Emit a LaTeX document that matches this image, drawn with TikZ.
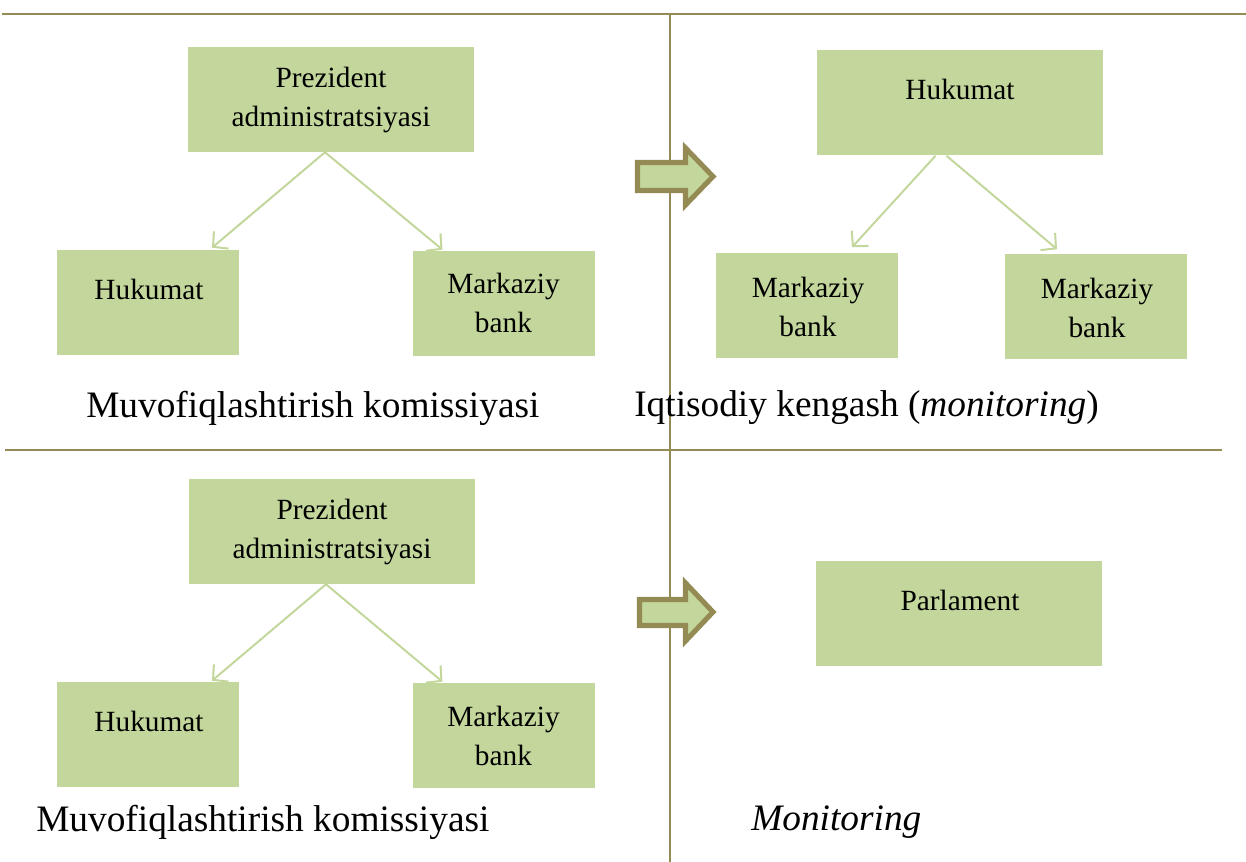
\documentclass[tikz,border=0pt]{standalone}
\usepackage{fontspec}
\setmainfont{Liberation Serif}
\usetikzlibrary{arrows.meta,calc}
\definecolor{boxgreen}{HTML}{C3D69B}
\definecolor{olive}{HTML}{948A54}
\begin{document}
\begin{tikzpicture}[x=0.75pt,y=-0.75pt,
  widebox/.style={fill=boxgreen,draw=none,inner sep=0pt,minimum width=214.5pt,minimum height=78.75pt},
  smallbox/.style={fill=boxgreen,draw=none,inner sep=0pt,minimum width=136.5pt,minimum height=78.75pt},
  boxtext/.style={inner sep=0pt,align=center,font=\fontsize{22pt}{29.25pt}\selectfont},
  caption/.style={inner sep=0pt,anchor=west,font=\fontsize{28pt}{34pt}\selectfont},
  link/.style={draw=boxgreen,line width=1.5pt,-{Straight Barb[length=8pt,width=17pt,line width=1.5pt]}},
  rule/.style={draw=olive,line width=1.6pt},
  bigarrow/.style={fill=boxgreen,draw=olive,line width=3.8pt,line join=miter}]
\useasboundingbox (0,0) rectangle (1246,862);

% quadrant rules
\draw[rule] (2,14) -- (1246,14);
\draw[rule] (5,450) -- (1222,450);
\draw[rule] (670,14) -- (670,862);

% top left: coordination commission
\node[widebox]  (pa1) at (331,99.5) {};
\node[smallbox] (hk1) at (148,302.5) {};
\node[smallbox] (mb1) at (503.5,303.5) {};
\node[boxtext] (pa1t) at (331,100) {Prezident\\administratsiyasi};
\node[boxtext] (hk1t) at (149,289) {Hukumat};
\node[boxtext] (mb1t) at (503.5,303) {Markaziy\\bank};
\draw[link] ($(pa1.south)+(-6,0)$) -- ($(hk1.north)+(64,-2)$);
\draw[link] ($(pa1.south)+(-6,0)$) -- ($(mb1.north)+(-61,-1)$);
\node[caption] (cap1) at (86,408) {Muvofiqlashtirish komissiyasi};

% top right: economic council
\node[widebox]  (hk2) at (959.5,103) {};
\node[smallbox] (mb2) at (807,306) {};
\node[smallbox] (mb3) at (1096,307) {};
\node[boxtext] (hk2t) at (960,89) {Hukumat};
\node[boxtext] (mb2t) at (808,306.5) {Markaziy\\bank};
\node[boxtext] (mb3t) at (1097,307.5) {Markaziy\\bank};
\draw[link] ($(hk2.south)+(-24,0)$) -- ($(mb2.north)+(45,-6)$);
\draw[link] ($(hk2.south)+(-13,0)$) -- ($(mb3.north)+(-39,-5)$);
\node[caption] (cap2) at (634,408) {Iqtisodiy kengash (\textit{monitoring})};

% bottom left: coordination commission
\node[widebox]  (pa3) at (332,531.5) {};
\node[smallbox] (hk3) at (148,734.5) {};
\node[smallbox] (mb4) at (503.5,735.5) {};
\node[boxtext] (pa3t) at (332,532) {Prezident\\administratsiyasi};
\node[boxtext] (hk3t) at (149,721) {Hukumat};
\node[boxtext] (mb4t) at (503.5,736) {Markaziy\\bank};
\draw[link] ($(pa3.south)+(-6,0)$) -- ($(hk3.north)+(64,-1)$);
\draw[link] ($(pa3.south)+(-6,0)$) -- ($(mb4.north)+(-61,-1)$);
\node[caption] (cap3) at (36,822) {Muvofiqlashtirish komissiyasi};

% bottom right: parliament monitoring
\node[widebox] (pl) at (959,613.5) {};
\node[boxtext] (plt) at (960,600) {Parlament};
\node[caption] (cap4) at (751,822) {\textit{Monitoring}};

% block arrows between the panels
\draw[bigarrow] (637.5,162.5) -- (685.5,162.5) -- (685.5,148) -- (713,176.5)
  -- (685.5,205) -- (685.5,190.5) -- (637.5,190.5) -- cycle;
\draw[bigarrow] (639.5,599.5) -- (685.5,599.5) -- (685.5,583) -- (713,612)
  -- (685.5,641) -- (685.5,625.5) -- (639.5,625.5) -- cycle;
\end{tikzpicture}
\end{document}
